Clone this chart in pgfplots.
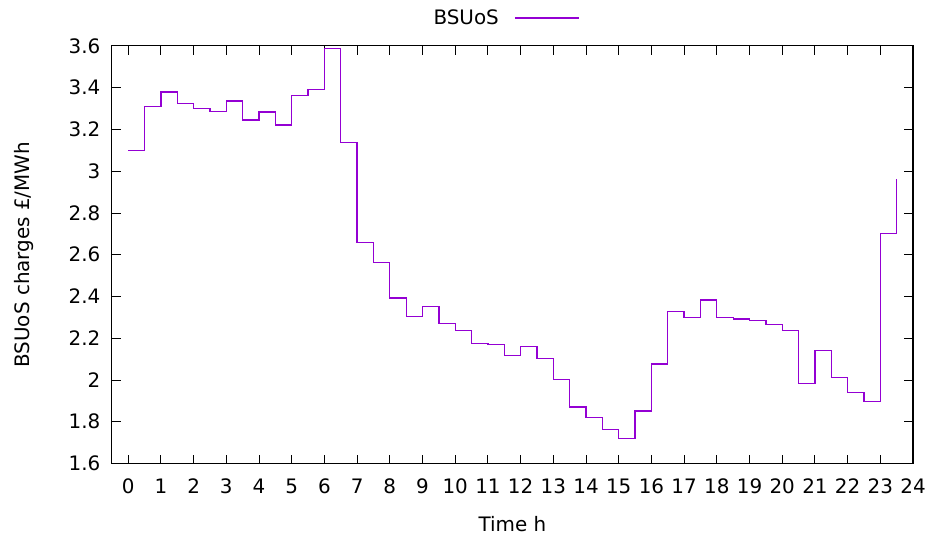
\documentclass[border=0pt]{standalone}
\usepackage{pgfplots}
\pgfplotsset{compat=1.18}
\usepackage{fontspec}
\setmainfont{DejaVu Sans}
\definecolor{gpviolet}{RGB}{148,0,211}
\begin{document}
\begin{tikzpicture}
\begin{axis}[
  at={(0,0)}, anchor=south west,
  scale only axis, width=802bp, height=418bp,
  xmin=-0.5, xmax=24, ymin=1.6, ymax=3.6,
  xtick={0,1,...,24},
  ytick={1.6,1.8,...,3.6},
  tick align=inside,
  major tick length=9bp,
  tick style={black, line width=0.9bp},
  axis line style={black, line width=1.1bp},
  /pgf/number format/assume math mode=true,
  /pgf/number format/fixed,
  font=\fontsize{20}{24}\selectfont,
  xticklabel style={yshift=-12bp},
  yticklabel style={xshift=-8bp},
  xlabel={Time h},
  ylabel={BSUoS charges £/MWh},
  every axis x label/.style={at={(axis description cs:0.5,0)}, yshift=-61bp, anchor=center},
  every axis y label/.style={at={(axis description cs:0,0.5)}, xshift=-88bp, anchor=center, rotate=90},
  legend style={at={(axis description cs:0.5,1)}, anchor=center, yshift=28bp, xshift=-7bp, draw=none, fill=none, font=\fontsize{20}{24}\selectfont},
  legend plot pos=right,
  legend image code/.code={\path[draw=none,fill=none] (0bp,-1bp) rectangle (1bp,1bp); \draw[#1] (14bp,0bp) -- (78bp,0bp);},
]
\addplot[const plot mark left, gpviolet, line width=1.3bp, mark=none] coordinates {
(0,3.10) (0.5,3.31) (1,3.38) (1.5,3.325) (2,3.30) (2.5,3.285) (3,3.337) (3.5,3.246)
(4,3.283) (4.5,3.221) (5,3.364) (5.5,3.391) (6,3.589) (6.5,3.139) (7,2.659) (7.5,2.563)
(8,2.393) (8.5,2.303) (9,2.353) (9.5,2.272) (10,2.236) (10.5,2.176) (11,2.169) (11.5,2.116)
(12,2.161) (12.5,2.102) (13,2.003) (13.5,1.871) (14,1.822) (14.5,1.764) (15,1.721) (15.5,1.852)
(16,2.077) (16.5,2.328) (17,2.299) (17.5,2.383) (18,2.300) (18.5,2.292) (19,2.286) (19.5,2.267)
(20,2.236) (20.5,1.983) (21,2.141) (21.5,2.013) (22,1.941) (22.5,1.897) (23,2.700) (23.5,2.962)
};
\addlegendentry{BSUoS}
\end{axis}
\path[use as bounding box] (-112bp,-77bp) rectangle (817bp,464bp);
\end{tikzpicture}
\end{document}
